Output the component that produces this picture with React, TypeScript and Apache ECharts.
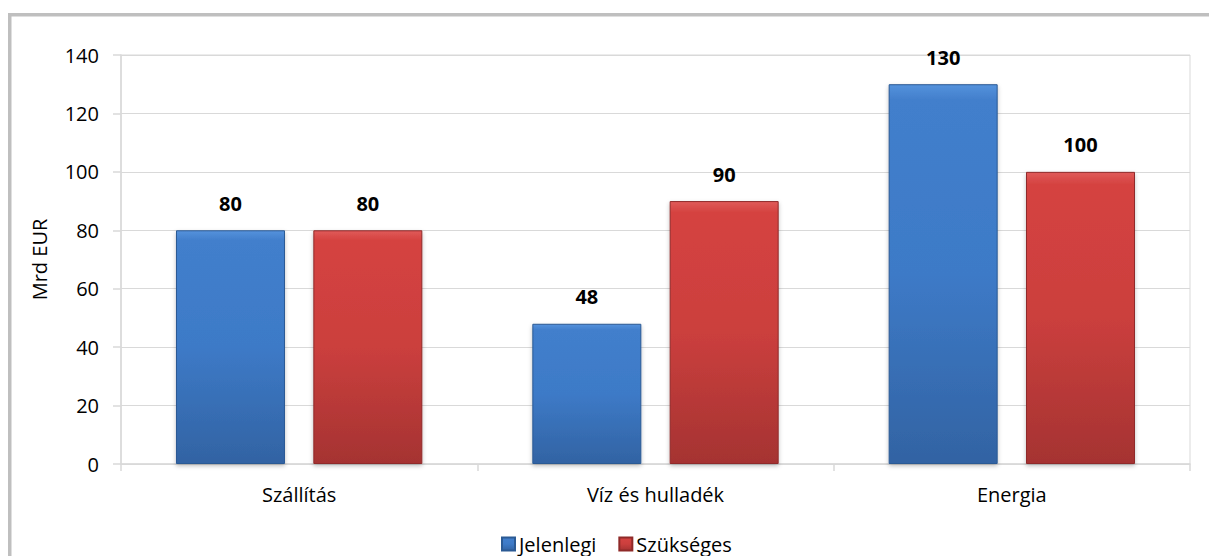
import React, { useEffect, useRef } from "react";
import * as echarts from "echarts";

const categories = ["Szállítás", "Víz és hulladék", "Energia"];
const jelenlegi = [80, 48, 130];
const szukseges = [80, 90, 100];
const seriesNames = ["Jelenlegi", "Szükséges"];
const yTicks = { min: 0, max: 140, interval: 20 };

export default function App() {
  const ref = useRef<HTMLDivElement>(null);
  useEffect(() => {
    if (!ref.current) return;
    const chart = echarts.init(ref.current, null, { renderer: "svg" });
    const font = "'Open Sans', 'Noto Sans', sans-serif";
    const blue = new echarts.graphic.LinearGradient(0, 0, 0, 1, [
      { offset: 0, color: "#5592dc" },
      { offset: 0.04, color: "#427fcc" },
      { offset: 0.5, color: "#3d7ac7" },
      { offset: 1, color: "#3263a3" },
    ]);
    const red = new echarts.graphic.LinearGradient(0, 0, 0, 1, [
      { offset: 0, color: "#e05a58" },
      { offset: 0.04, color: "#d54341" },
      { offset: 0.5, color: "#cb3f3d" },
      { offset: 1, color: "#a53332" },
    ]);
    const label = {
      show: true,
      position: "top",
      distance: 17,
      fontFamily: font,
      fontSize: 20,
      fontWeight: "bold",
      color: "#000",
    };
    chart.setOption({
      animation: false,
      backgroundColor: "#fff",
      textStyle: { fontFamily: font },
      grid: { left: 121, right: 19, top: 55, bottom: 92, show: true, borderColor: "#d9d9d9", borderWidth: 1 },
      legend: {
        left: 496,
        top: 529,
        itemWidth: 13,
        itemHeight: 13,
        itemGap: 22,
        icon: "rect",
        textStyle: { fontFamily: font, fontSize: 20, color: "#000", padding: [0, 0, 0, -1] },
        data: seriesNames,
      },
      xAxis: {
        type: "category",
        data: categories,
        axisLine: { lineStyle: { color: "#d9d9d9", width: 1.5 } },
        axisTick: { show: true, length: 7, lineStyle: { color: "#d9d9d9", width: 1.5 } },
        axisLabel: { fontFamily: font, fontSize: 20, color: "#000", margin: 20 },
      },
      yAxis: {
        type: "value",
        min: yTicks.min,
        max: yTicks.max,
        interval: yTicks.interval,
        name: "Mrd EUR",
        nameLocation: "middle",
        nameGap: 72,
        nameTextStyle: { fontFamily: font, fontSize: 20, color: "#000" },
        axisLine: { show: true, lineStyle: { color: "#d9d9d9", width: 1.5 } },
        axisTick: { show: true, length: 8, lineStyle: { color: "#d9d9d9", width: 1.5 } },
        splitLine: { lineStyle: { color: "#d9d9d9", width: 1 } },
        axisLabel: { fontFamily: font, fontSize: 20, color: "#000", margin: 22 },
      },
      series: [
        {
          name: seriesNames[0],
          type: "bar",
          data: jelenlegi,
          barWidth: 109,
          barGap: "26%",
          itemStyle: { color: blue, borderColor: "#2b5a94", borderWidth: 1, shadowColor: "rgba(0,0,0,0.25)", shadowBlur: 4, shadowOffsetY: 2 },
          label,
        },
        {
          name: seriesNames[1],
          type: "bar",
          data: szukseges,
          barWidth: 109,
          barGap: "26%",
          itemStyle: { color: red, borderColor: "#8f2a29", borderWidth: 1, shadowColor: "rgba(0,0,0,0.25)", shadowBlur: 4, shadowOffsetY: 2 },
          label,
        },
      ],
      graphic: [
        { type: "rect", silent: true, shape: { x: 8, y: 13, width: 1201, height: 3.5 }, style: { fill: "#bfbfbf" } },
        { type: "rect", silent: true, shape: { x: 8, y: 13, width: 3.5, height: 543 }, style: { fill: "#bfbfbf" } },
      ],
    });
    return () => chart.dispose();
  }, []);
  return <div ref={ref} style={{ position: "fixed", left: 0, top: 0, width: 1209, height: 556 }} />;
}
